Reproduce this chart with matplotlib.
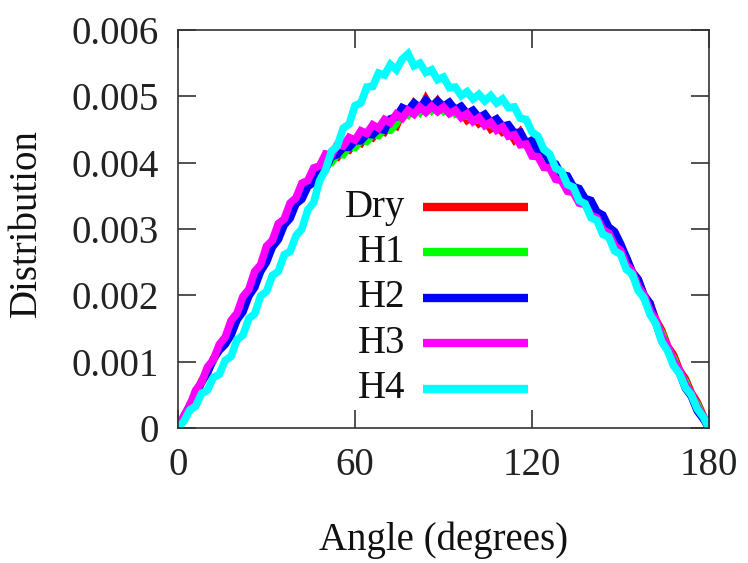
import numpy as np
import matplotlib
matplotlib.use("Agg")
import matplotlib.pyplot as plt

plt.rcParams['font.family'] = ['Liberation Serif', 'DejaVu Serif']

angles = list(range(0, 181, 2))

# values in units of 1e-4
dry = [0, 1.6, 3.5, 5.1, 7.1, 8.4, 10.4, 11.8, 13.2, 14.3, 16.9, 18.0, 20.4, 21.7, 24.2, 25.4,
       27.9, 28.8, 31.2, 32.0, 34.4, 35.0, 37.0, 37.5, 39.2, 39.4, 40.9, 40.8, 42.1, 41.9, 43.2,
       42.9, 44.3, 43.8, 45.0, 44.6, 45.9, 45.5, 47.6, 47.3, 48.9, 47.9, 49.6, 48.1, 49.3, 48.0,
       48.9, 47.6, 47.7, 46.4, 47.0, 45.9, 46.5, 45.1, 45.7, 44.6, 45.0, 43.5, 44.6, 43.0, 42.9,
       41.2, 41.3, 39.4, 39.5, 37.6, 37.6, 35.8, 35.9, 34.0, 34.0, 32.0, 31.8, 29.7, 29.2, 27.1,
       25.7, 23.5, 22.4, 20.0, 18.8, 16.3, 14.7, 12.3, 11.0, 8.7, 7.4, 5.3, 3.9, 1.9, 0]
h1 = [0, 1.7, 3.3, 5.3, 6.7, 8.7, 10.1, 12.1, 12.8, 14.9, 16.3, 18.5, 19.9, 22.3, 23.6, 26.0,
      27.3, 29.4, 30.6, 32.6, 33.8, 35.5, 36.4, 37.8, 38.3, 39.9, 40.0, 41.3, 41.2, 42.4, 42.3,
      43.4, 43.2, 44.3, 44.1, 45.1, 44.9, 45.9, 47.7, 47.2, 48.5, 47.6, 48.9, 47.9, 48.7, 47.8,
      48.6, 47.4, 48.0, 47.1, 47.5, 46.5, 46.8, 45.8, 46.1, 45.2, 45.3, 44.2, 44.4, 43.2, 42.7,
      41.4, 41.0, 39.7, 39.1, 37.8, 37.3, 36.0, 35.5, 34.2, 33.6, 32.2, 31.5, 29.9, 29.0, 27.3,
      25.2, 23.0, 21.9, 19.5, 18.2, 15.8, 14.3, 11.9, 10.5, 8.3, 7.0, 4.8, 3.6, 1.6, 0]
h2 = [0, 1.5, 3.4, 5.0, 6.9, 8.3, 10.4, 11.7, 12.6, 14.0, 16.3, 17.5, 19.9, 21.2, 23.6, 25.0,
      27.3, 28.4, 30.6, 31.6, 33.8, 34.5, 36.4, 37.0, 38.6, 39.0, 40.9, 41.2, 42.3, 42.3, 43.3,
      43.3, 44.3, 44.2, 45.1, 44.9, 46.6, 46.9, 48.3, 47.9, 49.0, 48.3, 49.4, 48.5, 49.3, 48.5,
      49.1, 48.0, 48.5, 47.4, 47.9, 46.8, 47.3, 46.1, 46.6, 45.5, 45.7, 44.5, 44.6, 42.9, 43.4,
      41.8, 41.7, 40.1, 39.8, 38.2, 38.0, 36.4, 36.1, 34.6, 34.3, 32.6, 32.1, 30.3, 29.6, 27.8,
      25.7, 23.5, 22.4, 20.0, 18.8, 15.8, 13.2, 11.9, 9.5, 8.3, 6.0, 4.8, 2.6, 1.4, 0]
h3 = [0, 1.9, 3.4, 5.7, 6.9, 9.2, 10.3, 12.6, 13.7, 16.2, 17.3, 19.8, 20.9, 23.6, 24.6, 27.4,
      28.3, 30.8, 31.5, 33.9, 34.7, 36.9, 37.3, 39.2, 39.5, 41.3, 41.1, 42.7, 42.5, 43.8, 43.4,
      44.8, 44.4, 45.7, 45.2, 46.5, 46.0, 47.3, 46.7, 47.9, 47.3, 48.4, 47.6, 48.5, 47.7, 48.4,
      47.4, 47.9, 46.8, 47.4, 46.2, 46.8, 45.6, 46.1, 44.9, 45.4, 44.0, 44.2, 42.7, 42.8, 41.0,
      40.9, 39.3, 39.2, 37.5, 37.3, 35.7, 35.5, 33.9, 33.7, 32.1, 31.7, 29.9, 29.4, 27.5, 26.8,
      24.6, 23.6, 21.3, 20.1, 17.7, 16.3, 13.8, 12.3, 10.1, 8.7, 6.6, 5.2, 3.2, 1.8, 0]
h4 = [0, 1.0, 2.7, 3.3, 5.2, 5.7, 7.6, 8.1, 10.2, 10.8, 13.3, 14.0, 16.5, 17.2, 19.9, 20.6,
      23.0, 23.6, 26.1, 26.6, 29.0, 30.0, 32.9, 34.0, 37.3, 38.9, 41.7, 42.5, 45.2, 45.8, 48.6,
      49.0, 51.4, 51.5, 53.5, 53.2, 54.8, 54.0, 55.6, 56.4, 54.6, 55.0, 53.6, 54.0, 52.5, 52.9,
      51.3, 51.4, 50.1, 50.7, 49.6, 50.3, 49.3, 50.1, 49.0, 49.6, 48.3, 48.4, 46.7, 46.5, 44.6,
      44.0, 42.0, 41.3, 39.2, 38.7, 36.7, 36.3, 34.3, 33.8, 31.7, 31.3, 29.2, 28.8, 26.7, 26.2,
      23.9, 23.2, 20.7, 19.6, 17.1, 15.7, 13.0, 11.6, 9.4, 8.2, 6.1, 5.0, 2.9, 1.7, 0]

labels = ["Dry", "H1", "H2", "H3", "H4"]
series = [dry, h1, h2, h3, h4]
colors = ["#ff0000", "#00ff00", "#0000ff", "#ff00ff", "#00ffff"]

xticks = [0, 60, 120, 180]
yticks = [0, 0.001, 0.002, 0.003, 0.004, 0.005, 0.006]
yticklabels = ["0", "0.001", "0.002", "0.003", "0.004", "0.005", "0.006"]

fig = plt.figure(figsize=(7.48, 5.63), dpi=100)
ax = fig.add_axes([178/748, 1 - 428/563, (709-178)/748, (428-30)/563])

for lab, s, c in zip(labels, series, colors):
    ax.plot(angles, np.array(s) * 1e-4, color=c, lw=5.5, solid_joinstyle='miter')

ax.set_xlim(0, 180)
ax.set_ylim(0, 0.006)
ax.set_xticks(xticks)
ax.set_xticklabels([str(t) for t in xticks])
ax.set_yticks(yticks)
ax.set_yticklabels(yticklabels)
ax.tick_params(direction='in', length=13, width=1.1, labelsize=28, colors='#222222',
               top=True, right=True)
ax.tick_params(axis='y', pad=14)
ax.tick_params(axis='x', pad=14)
for sp in ax.spines.values():
    sp.set_linewidth(1.2)
    sp.set_color('#333333')

ax.set_xlabel("Angle (degrees)", fontsize=28, color='#111111')
ax.set_ylabel("Distribution", fontsize=28, color='#111111')
ax.xaxis.set_label_coords(0.5, -0.235)
ax.yaxis.set_label_coords(-0.25, 0.515)

# legend (gnuplot style: right-aligned text, sample line to the right)
leg_y = [0.555, 0.441, 0.327, 0.213, 0.098]
for lab, c, yy in zip(labels, colors, leg_y):
    ax.text(0.4275, yy, lab, transform=ax.transAxes, ha='right', va='center',
            fontsize=28, color='#111111')
    ax.plot([0.461, 0.659], [yy, yy], transform=ax.transAxes, color=c, lw=6,
            solid_capstyle='butt')

fig.savefig("out.png", dpi=100)
